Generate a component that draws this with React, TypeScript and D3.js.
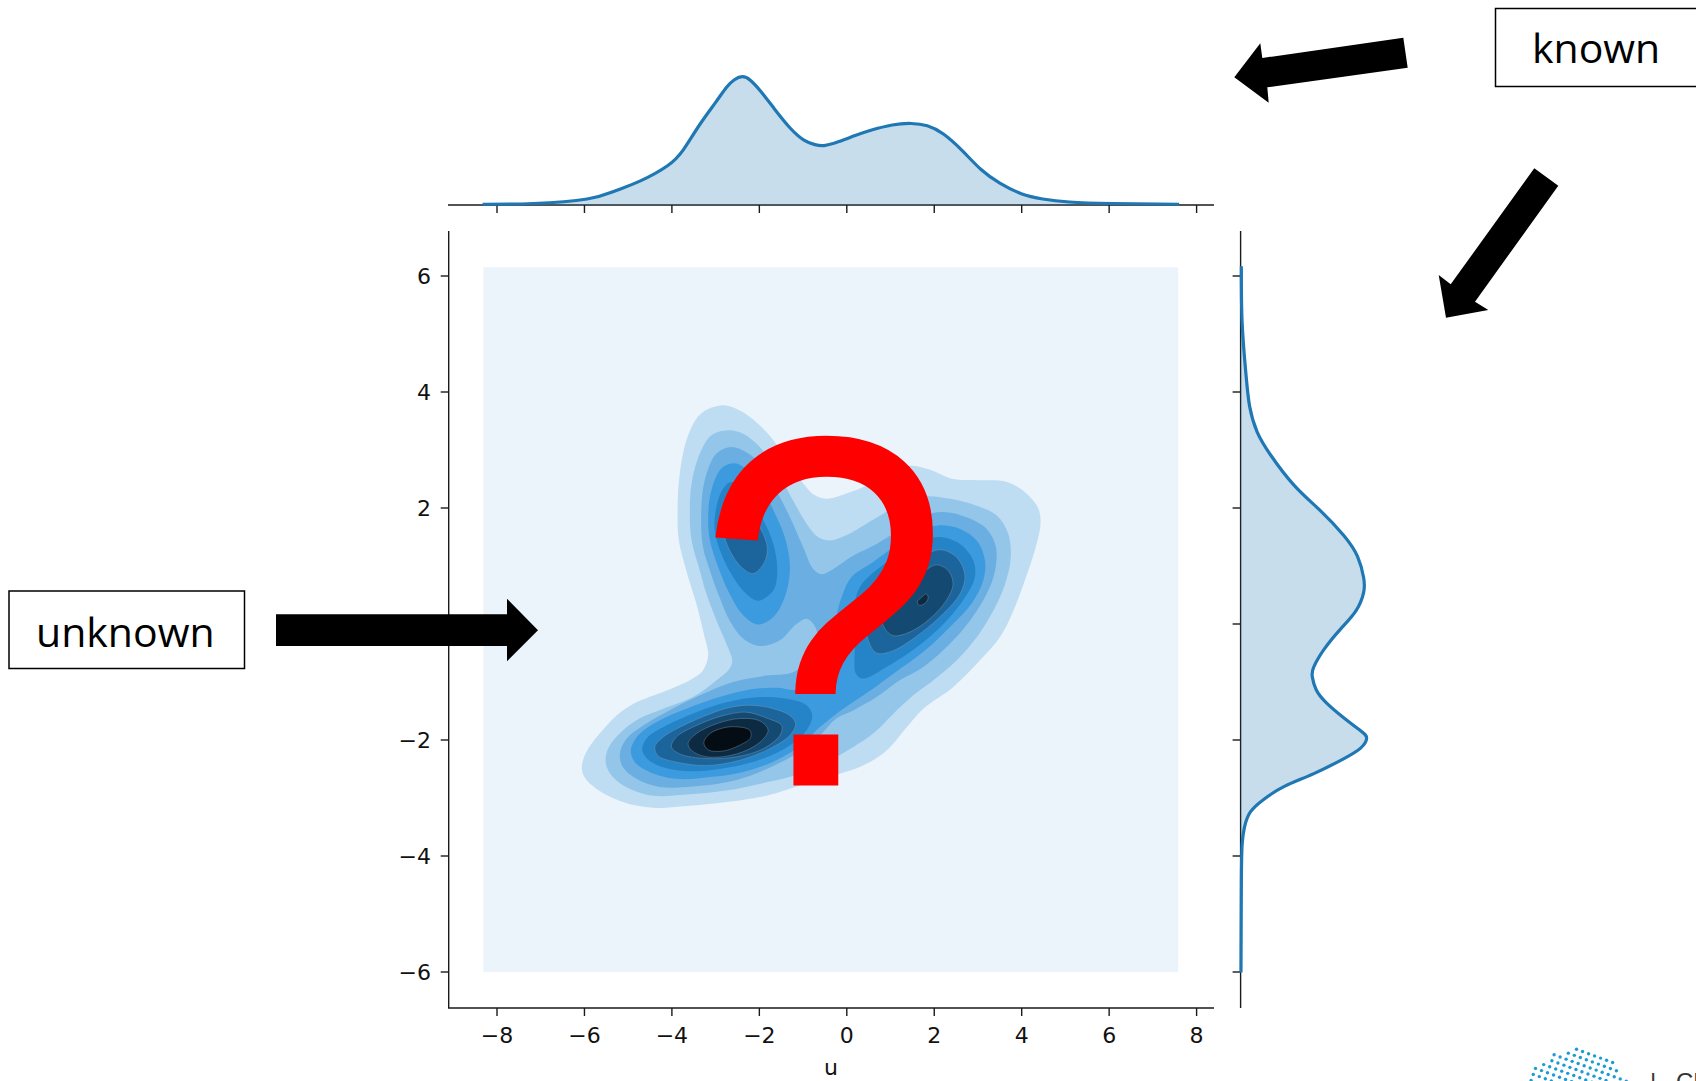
import React from "react";
import * as d3 from "d3";

type P = [number, number];

const xTicks = [-8, -6, -4, -2, 0, 2, 4, 6, 8];
const yTicks = [-6, -4, -2, 0, 2, 4, 6];
const gridExtentU: P = [-8.31, 7.58];
const gridExtentV: P = [-6.0, 6.15];

// marginal density of u: [u, density]
const marginalU: P[] = [[-8.33,.001],[-7.17,.002],[-5.94,.008],[-5.33,.018],[-4.72,.032],[-4.10,.052],[-3.74,.073],[-3.37,.106],[-3.00,.136],[-2.75,.156],[-2.57,.166],[-2.39,.170],[-2.20,.165],[-1.96,.150],[-1.65,.127],[-1.28,.101],[-0.98,.086],[-0.73,.080],[-0.49,.079],[-0.18,.084],[0.19,.092],[0.55,.099],[1.04,.106],[1.47,.108],[1.84,.105],[2.21,.094],[2.64,.072],[3.07,.047],[3.50,.029],[3.99,.015],[4.48,.008],[5.09,.004],[6.07,.002],[7.60,.001]];
// marginal density of v: [v, density]
const marginalV: P[] = [[6.17,.001],[5.20,.002],[4.32,.007],[3.75,.012],[3.31,.022],[2.91,.040],[2.39,.071],[1.95,.106],[1.52,.137],[1.16,.155],[0.80,.163],[0.54,.163],[0.23,.153],[-0.08,.133],[-0.43,.111],[-0.74,.097],[-0.91,.095],[-1.13,.100],[-1.35,.113],[-1.62,.137],[-1.84,.159],[-1.97,.167],[-2.14,.159],[-2.32,.137],[-2.58,.097],[-2.80,.058],[-3.02,.031],[-3.24,.013],[-3.51,.005],[-3.81,.002],[-4.47,.001],[-6.01,.0005]];

// joint density iso-regions: [u, v] rings
const level1: P[] = [[-2.83,3.77],[-2.45,3.68],[-2.07,3.48],[-1.68,3.17],[-1.30,2.76],[-.96,2.39],[-.73,2.22],[-.46,2.16],[-.01,2.25],[.53,2.42],[.91,2.62],[1.44,2.73],[1.90,2.66],[2.43,2.50],[2.97,2.48],[3.66,2.45],[4.11,2.25],[4.38,1.99],[4.43,1.73],[4.30,1.27],[4.07,.75],[3.81,.23],[3.50,-.23],[3.04,-.63],[2.43,-1.09],[1.75,-1.46],[1.37,-1.78],[.91,-2.18],[.37,-2.44],[-.16,-2.58],[-.92,-2.75],[-1.84,-2.96],[-2.75,-3.07],[-3.67,-3.14],[-4.43,-3.17],[-5.12,-3.07],[-5.73,-2.84],[-6.0,-2.64],[-6.06,-2.47],[-5.96,-2.21],[-5.65,-1.89],[-5.27,-1.58],[-4.81,-1.35],[-4.13,-1.15],[-3.59,-.97],[-3.29,-.80],[-3.17,-.54],[-3.25,-.23],[-3.44,.35],[-3.67,.92],[-3.84,1.44],[-3.87,1.90],[-3.82,2.59],[-3.63,3.25],[-3.33,3.63]];
const level2: P[] = [[-2.71,3.34],[-2.37,3.28],[-1.99,3.05],[-1.61,2.65],[-1.23,2.13],[-.92,1.73],[-.66,1.50],[-.39,1.44],[-.01,1.53],[.45,1.73],[.83,1.90],[1.21,2.07],[1.75,2.20],[2.36,2.16],[2.97,2.04],[3.43,1.87],[3.69,1.56],[3.75,1.15],[3.62,.69],[3.35,.23],[2.97,-.23],[2.51,-.63],[1.98,-.97],[1.52,-1.23],[1.06,-1.55],[.60,-1.89],[.15,-2.12],[-.46,-2.38],[-1.07,-2.58],[-1.84,-2.73],[-2.75,-2.87],[-3.67,-2.94],[-4.43,-2.96],[-4.97,-2.84],[-5.35,-2.64],[-5.51,-2.41],[-5.46,-2.15],[-5.16,-1.86],[-4.74,-1.63],[-4.20,-1.46],[-3.52,-1.26],[-2.98,-.97],[-2.68,-.77],[-2.62,-.63],[-2.72,-.40],[-2.98,.06],[-3.21,.52],[-3.36,.92],[-3.55,1.44],[-3.59,1.90],[-3.55,2.42],[-3.36,2.94],[-3.10,3.25]];
const level3: P[] = [[-2.64,3.05],[-2.30,2.96],[-1.91,2.71],[-1.61,2.30],[-1.30,1.84],[-1.0,1.33],[-.77,.95],[-.58,.86],[-.31,.95],[.15,1.18],[.68,1.38],[1.29,1.67],[1.75,1.87],[2.21,1.93],[2.74,1.84],[3.20,1.64],[3.41,1.33],[3.39,.92],[3.20,.52],[2.82,.06],[2.36,-.34],[1.75,-.74],[1.21,-.97],[.68,-1.26],[.15,-1.49],[-.24,-1.63],[-.69,-1.98],[-1.23,-2.27],[-1.99,-2.55],[-2.75,-2.73],[-3.52,-2.80],[-4.28,-2.81],[-4.81,-2.67],[-5.12,-2.47],[-5.19,-2.24],[-5.04,-1.98],[-4.66,-1.75],[-4.13,-1.52],[-3.36,-1.23],[-2.60,-1.0],[-1.84,-.89],[-1.23,-.83],[-.77,-.57],[-.69,-.11],[-.91,.09],[-1.15,.0],[-1.53,-.28],[-1.99,-.38],[-2.37,-.25],[-2.68,.06],[-2.91,.46],[-3.13,.92],[-3.29,1.33],[-3.33,1.90],[-3.25,2.48],[-2.98,2.94]];
const level4a: P[] = [[-2.60,2.77],[-2.33,2.69],[-1.99,2.42],[-1.68,1.96],[-1.42,1.50],[-1.30,.98],[-1.42,.46],[-1.68,.12],[-2.03,-.01],[-2.37,.15],[-2.68,.52],[-2.94,.98],[-3.13,1.44],[-3.17,1.84],[-3.10,2.30],[-2.87,2.68]];
const level4b: P[] = [[2.09,1.70],[2.59,1.64],[2.97,1.44],[3.16,1.10],[3.12,.75],[2.85,.35],[2.36,-.05],[1.75,-.48],[1.06,-.86],[.53,-1.15],[-.08,-1.46],[-.62,-1.78],[-1.0,-2.06],[-1.61,-2.35],[-2.37,-2.55],[-3.13,-2.64],[-3.90,-2.67],[-4.51,-2.55],[-4.85,-2.38],[-4.94,-2.18],[-4.77,-1.92],[-4.35,-1.69],[-3.67,-1.46],[-2.91,-1.26],[-2.22,-1.13],[-1.61,-1.10],[-1.07,-1.12],[-.69,-.74],[-.35,-.17],[-.12,.46],[.11,.81],[.60,1.07],[1.14,1.36],[1.63,1.61]];
const level5a: P[] = [[-2.64,2.45],[-2.30,2.25],[-1.91,1.79],[-1.68,1.38],[-1.59,.92],[-1.68,.58],[-2.03,.40],[-2.30,.52],[-2.60,.81],[-2.87,1.21],[-3.02,1.61],[-2.98,2.02],[-2.83,2.33]];
const level5b: P[] = [[2.13,1.50],[2.59,1.38],[2.89,1.10],[2.93,.81],[2.66,.41],[2.21,.0],[1.60,-.40],[.91,-.74],[.37,-.94],[.21,-.86],[.18,-.40],[.15,.18],[.30,.64],[.76,.98],[1.37,1.27],[1.75,1.44]];
const level5c: P[] = [[-1.99,-1.26],[-1.38,-1.29],[-.92,-1.40],[-.79,-1.58],[-.92,-1.83],[-1.30,-2.09],[-1.91,-2.32],[-2.68,-2.47],[-3.52,-2.54],[-4.20,-2.47],[-4.57,-2.32],[-4.68,-2.15],[-4.55,-1.95],[-4.13,-1.75],[-3.44,-1.52],[-2.75,-1.35]];
const level6a: P[] = [[-2.64,2.25],[-2.30,2.02],[-1.99,1.67],[-1.82,1.33],[-1.88,1.07],[-2.14,.87],[-2.41,.98],[-2.68,1.27],[-2.83,1.61],[-2.83,1.96]];
const level6b: P[] = [[2.13,1.28],[2.51,1.15],[2.70,.84],[2.59,.52],[2.21,.18],[1.67,-.17],[1.06,-.46],[.68,-.50],[.49,-.28],[.45,.06],[.68,.46],[1.14,.81],[1.67,1.13]];
const level6c: P[] = [[-2.22,-1.40],[-1.68,-1.46],[-1.30,-1.58],[-1.17,-1.72],[-1.30,-1.92],[-1.76,-2.15],[-2.45,-2.35],[-3.21,-2.44],[-3.90,-2.38],[-4.32,-2.27],[-4.39,-2.12],[-4.20,-1.95],[-3.74,-1.75],[-3.13,-1.55],[-2.68,-1.44]];
const level7a: P[] = [[2.05,1.02],[2.32,.92],[2.43,.69],[2.28,.41],[1.90,.09],[1.44,-.14],[1.06,-.20],[.87,-.08],[.79,.15],[.95,.38],[1.37,.69],[1.79,.92]];
const level7b: P[] = [[-2.30,-1.52],[-1.84,-1.62],[-1.49,-1.75],[-1.53,-1.92],[-1.91,-2.15],[-2.52,-2.29],[-3.21,-2.32],[-3.82,-2.24],[-4.01,-2.12],[-3.90,-1.95],[-3.44,-1.75],[-2.83,-1.58]];
const level8a: P[] = [[1.82,.52],[1.86,.46],[1.82,.38],[1.67,.32],[1.61,.38],[1.71,.46]];
const level8b: P[] = [[-2.45,-1.63],[-1.99,-1.67],[-1.80,-1.83],[-1.99,-2.04],[-2.52,-2.24],[-3.21,-2.29],[-3.55,-2.18],[-3.63,-2.06],[-3.44,-1.89],[-2.98,-1.72]];
const level9: P[] = [[-2.60,-1.77],[-2.22,-1.83],[-2.20,-1.96],[-2.45,-2.09],[-2.83,-2.19],[-3.17,-2.17],[-3.27,-2.04],[-3.13,-1.89],[-2.91,-1.81]];

const levelRings: P[][][] = [[level1],[level2],[level3],[level4a,level4b],[level5a,level5b,level5c],[level6a,level6b,level6c],[level7a,level7b],[level8a,level8b],[level9]];
const levelColors = ["#bedcf2","#94c6ea","#6bafe2","#3c9ade","#2584c7","#1b659c","#144a72","#0c2a42","#040d14"];
const gridColor = "#ebf3fb";

const x = d3.scaleLinear().domain([-8, 8]).range([497, 1196.6]);
const y = d3.scaleLinear().domain([-6, 6]).range([972, 276]);
const densityPx = d3.scaleLinear().domain([0, 0.17]).range([0, 128.3]);

const axisLeft = 448.7, axisRight = 1214, axisTop = 231, axisBottom = 1008;
const topBase = 205, rightBase = 1240.6, tick = 8;
const axisColor = "#1a1a1a";
const tickFont = "'DejaVu Sans', sans-serif";

const ring = d3.line<P>().x(d => x(d[0])).y(d => y(d[1])).curve(d3.curveCatmullRomClosed.alpha(0.5));
const topFill = d3.area<P>().x(d => x(d[0])).y0(topBase).y1(d => topBase - densityPx(d[1])).curve(d3.curveNatural);
const topLine = d3.line<P>().x(d => x(d[0])).y(d => topBase - densityPx(d[1])).curve(d3.curveNatural);
const rightArea = d3.area<P>().y(d => y(d[0])).x0(rightBase).x1(d => rightBase + densityPx(d[1])).curve(d3.curveNatural);
const rightLine = d3.line<P>().y(d => y(d[0])).x(d => rightBase + densityPx(d[1])).curve(d3.curveNatural);

const fmt = (n: number) => (n < 0 ? "\u2212" + Math.abs(n) : String(n));

// footer logo: dotted disc
const logo = { cx: 1577, cy: 1104, r: 55, step: 6.4, angle: 0.35 };
const logoDots = d3.range(-10, 11).flatMap(i => d3.range(-10, 11).map(j => {
  const a = i * logo.step, b = j * logo.step;
  return [logo.cx + a * Math.cos(logo.angle) - b * Math.sin(logo.angle), logo.cy + a * Math.sin(logo.angle) + b * Math.cos(logo.angle)] as P;
})).filter(p => Math.hypot(p[0] - logo.cx, p[1] - logo.cy) <= logo.r);

const poly = (pts: P[]) => pts.map(p => p.join(",")).join(" ");
const arrowTop: P[] = [[1403.3,37.7],[1407.7,67.7],[1267.3,87.3],[1268.7,102.7],[1234.3,77.3],[1260.3,43.3],[1262.3,58]];
const arrowRight: P[] = [[1534.3,168.3],[1558.3,185.7],[1475,301.7],[1488.3,310],[1446,317.7],[1438.7,275],[1450.7,284.3]];
const arrowLeft: P[] = [[276,614.3],[507,614.3],[507,598.7],[538,630.3],[507,661.3],[507,646],[276,646]];
const labelFont = "'Open Sans', sans-serif";

export default function App() {
  return (
    <svg width={1696} height={1081} viewBox="0 0 1696 1081" style={{ position: "fixed", left: 0, top: 0, background: "#fff", display: "block" }}>
      {/* joint panel */}
      <rect x={x(gridExtentU[0])} y={y(gridExtentV[1])} width={x(gridExtentU[1]) - x(gridExtentU[0])} height={y(gridExtentV[0]) - y(gridExtentV[1])} fill={gridColor} />
      {levelRings.map((rings, i) => (
        <g key={i}>
          {rings.map((r, k) => <path key={k} d={ring(r) || ""} fill={levelColors[i]} stroke={i >= 5 ? "#8aa0b0" : "none"} strokeWidth={i >= 5 ? 0.4 : 0} />)}
        </g>
      ))}
      {/* axes */}
      <g stroke={axisColor} strokeWidth={1.4} fill="none">
        <line x1={axisLeft} x2={axisLeft} y1={axisTop} y2={axisBottom} />
        <line x1={axisLeft - 0.7} x2={axisRight} y1={axisBottom} y2={axisBottom} />
        <line x1={axisLeft - 0.7} x2={axisRight} y1={topBase} y2={topBase} />
        <line x1={rightBase} x2={rightBase} y1={axisTop} y2={axisBottom} />
        {xTicks.map(t => <line key={"a" + t} x1={x(t)} x2={x(t)} y1={axisBottom} y2={axisBottom + tick} />)}
        {xTicks.map(t => <line key={"b" + t} x1={x(t)} x2={x(t)} y1={topBase} y2={topBase + tick} />)}
        {yTicks.map(t => <line key={"c" + t} y1={y(t)} y2={y(t)} x1={axisLeft} x2={axisLeft - tick} />)}
        {yTicks.map(t => <line key={"d" + t} y1={y(t)} y2={y(t)} x1={rightBase} x2={rightBase - tick} />)}
      </g>
      <g fontFamily={tickFont} fontSize={22} fill="#111">
        {xTicks.map(t => <text key={t} x={x(t)} y={1043} textAnchor="middle">{fmt(t)}</text>)}
        {yTicks.map(t => <text key={t} x={431} y={y(t) + 8} textAnchor="end">{fmt(t)}</text>)}
        <text x={831} y={1075} textAnchor="middle">u</text>
      </g>
      {/* marginals */}
      <path d={topFill(marginalU) || ""} fill="#1f77b4" fillOpacity={0.25} />
      <path d={topLine(marginalU) || ""} fill="none" stroke="#1f77b4" strokeWidth={3.2} />
      <path d={rightArea(marginalV) || ""} fill="#1f77b4" fillOpacity={0.25} />
      <path d={rightLine(marginalV) || ""} fill="none" stroke="#1f77b4" strokeWidth={3.2} />
      {/* annotations */}
      <polygon points={poly(arrowTop)} fill="#000" />
      <polygon points={poly(arrowRight)} fill="#000" />
      <polygon points={poly(arrowLeft)} fill="#000" />
      <rect x={1495.5} y={8.5} width={260} height={78} fill="#fff" stroke="#000" strokeWidth={1.5} />
      <text x={1532} y={62.7} fontFamily={labelFont} fontSize={41} fill="#000">known</text>
      <rect x={9} y={591} width={235.5} height={77.5} fill="#fff" stroke="#000" strokeWidth={1.5} />
      <text x={36} y={646.7} fontFamily={labelFont} fontSize={41} fill="#000">unknown</text>
      <text transform="translate(698,784.5) scale(0.955,1.055)" x={0} y={0} fontFamily="'Liberation Sans', sans-serif" fontSize={472} fill="#ff0000" stroke="#ff0000" strokeWidth={2}>?</text>
      {/* footer */}
      <g fill="#1c9ad6">{logoDots.map((p, i) => <circle key={i} cx={p[0]} cy={p[1]} r={1.7} />)}</g>
      <text x={1653} y={1090} fontFamily="'Liberation Sans', sans-serif" fontSize={24} fill="#333" textAnchor="middle">|</text>
      <text x={1676} y={1090} fontFamily="'Liberation Sans', sans-serif" fontSize={24} fill="#333">CF</text>
    </svg>
  );
}
